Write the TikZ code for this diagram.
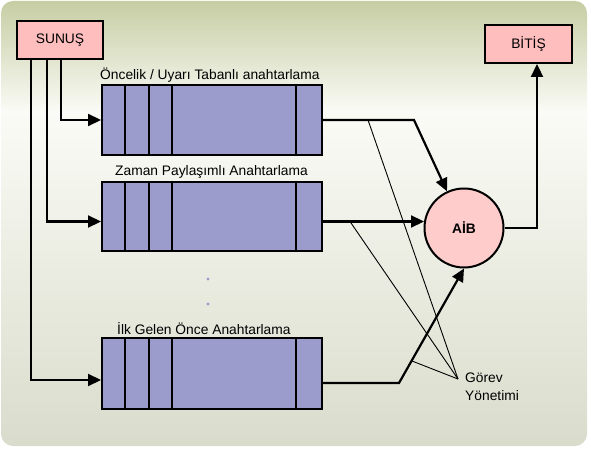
\documentclass[tikz,border=0pt]{standalone}
\usepackage{fontspec}
\setmainfont{Liberation Sans}
\usetikzlibrary{arrows.meta,calc}
\definecolor{qfill}{RGB}{155,155,204}
\definecolor{bpink}{RGB}{255,190,190}
\definecolor{cpink}{RGB}{255,204,204}
\definecolor{bgtop}{RGB}{198,205,163}
\definecolor{bgmid}{RGB}{250,251,246}
\definecolor{bgbot}{RGB}{217,220,203}
\tikzset{
  txt/.style={font=\fontsize{13.8}{18}\selectfont, inner sep=0pt},
  pbox/.style={draw, line width=2pt, fill=bpink, txt},
  queue/.style={draw, line width=2pt, fill=qfill, minimum width=220pt},
  divider/.style={line width=2pt},
  arr/.style={line width=2.2pt, -{Triangle[length=13pt,width=12pt]}},
  thin/.style={line width=0.9pt},
  lbl/.style={txt, anchor=west}
}
\begin{document}
\begin{tikzpicture}[x=1pt,y=-1pt]
\useasboundingbox (0,0) rectangle (591,449);
% background
\begin{scope}
\clip[rounded corners=12pt] (1,1) rectangle (587,446);
\shade[top color=bgtop, bottom color=bgmid] (0,0) rectangle (591,112);
\shade[top color=bgmid, bottom color=bgbot] (0,111) rectangle (591,449);
\end{scope}

% boxes
\node[pbox, minimum width=86pt, minimum height=38pt] (sun) at (60,40) {SUNUŞ};
\node[pbox, minimum width=87pt, minimum height=38pt] (bit) at (528.5,44) {BİTİŞ};

% queues
\node[queue, minimum height=70pt] (q1) at (212,120) {};
\node[queue, minimum height=69pt] (q2) at (212,216.5) {};
\node[queue, minimum height=71pt] (q3) at (212,373.5) {};
\foreach \q in {q1,q2,q3}{
  \foreach \d in {24,48,71,195}{
    \draw[divider] ($(\q.north west)+(\d,0)$) -- ($(\q.south west)+(\d,0)$);
  }
}

% labels
\node[lbl] (l1) at (100,75) {Öncelik / Uyarı Tabanlı anahtarlama};
\node[lbl] (l2) at (115,172) {Zaman Paylaşımlı Anahtarlama};
\node[lbl] (l3) at (117,329) {İlk Gelen Önce Anahtarlama};

% dots
\fill[qfill] (208,279) circle (1.7);
\fill[qfill] (208,304) circle (1.7);

% AIB
\node[circle, draw, line width=2pt, fill=cpink, minimum size=79pt, txt] (aib) at (464,228) {\bfseries AİB};

% inputs from SUNUS
\draw[arr] ($(sun.south)+(1,0)$) |- (q1.west);
\draw[arr] ($(sun.south)+(-13,0)$) |- ($(q2.west)+(0,5)$);
\draw[arr] ($(sun.south)+(-29,0)$) |- ($(q3.west)+(0,6.5)$);

% outputs to AIB
\coordinate (b1) at (414,120);
\coordinate (b3) at (399,383);
\draw[arr] (q1.east) -- (b1) -- (aib);
\draw[arr] ($(q2.east)+(0,5)$) -- ($(aib.west)+(0.5,-6.5)$);
\draw[arr] ($(q3.east)+(0,9.5)$) -- (b3) -- (aib.south);

% AIB to BITIS
\draw[arr] (aib.east) -| ($(bit.south)+(8.5,0)$);

% Gorev Yonetimi
\coordinate (gy) at (458,379);
\coordinate (g1) at (368,120);
\coordinate (g2) at (350,221.5);
\coordinate (g3) at (412,361);
\draw[thin] (g1) -- (gy);
\draw[thin] (g2) -- (gy);
\draw[thin] (g3) -- (gy);
\node[txt, anchor=west, align=left] (gt) at (465,387) {Görev\\Yönetimi};
\end{tikzpicture}
\end{document}
